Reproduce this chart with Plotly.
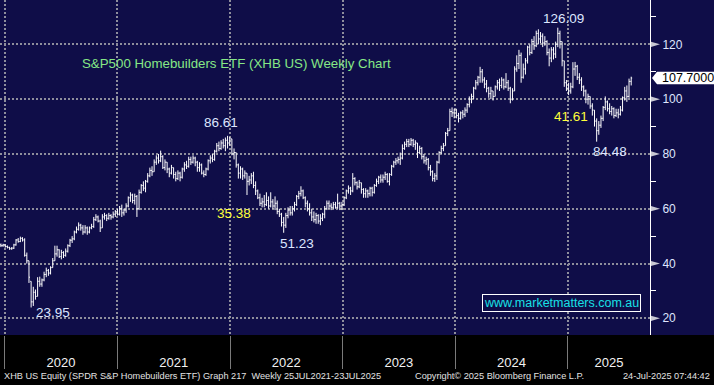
import plotly.graph_objects as go
import pandas as pd

# ---- data (weekly OHLC, XHB US) ----
opens = [46.8,46.5,46.8,46.2,45.9,45.4,45.6,46.8,48.6,48.0,
 49.2,48.6,43.0,41.0,33.5,26.0,29.5,28.0,33.5,32.5,
 34.0,36.0,37.5,36.5,38.5,41.0,43.5,45.0,42.5,44.0,
 43.0,44.5,46.5,48.5,49.0,51.5,52.5,54.0,53.0,51.5,
 53.0,51.5,53.0,53.5,56.0,57.0,55.5,53.0,57.0,57.5,
 56.5,57.5,57.0,58.0,59.0,58.0,60.0,58.5,59.5,61.0,
 64.0,65.0,63.0,64.5,60.0,66.0,68.5,67.5,70.0,72.0,
 74.0,73.5,77.0,78.5,77.5,79.0,75.0,77.0,74.5,73.0,
 75.0,72.5,71.0,73.0,71.5,74.5,76.0,75.5,78.0,77.0,
 78.5,77.0,75.0,76.0,73.0,72.5,74.5,77.5,78.5,78.0,
 81.0,83.0,82.0,84.0,83.0,85.0,84.0,85.5,80.0,80.5,
 76.0,73.0,74.5,72.0,73.0,70.0,70.5,72.0,68.5,66.5,
 64.0,62.0,62.5,61.5,63.0,61.0,62.5,61.0,62.0,59.0,
 58.0,55.0,54.0,57.5,59.5,58.5,60.0,61.5,64.5,65.5,
 66.5,64.0,62.0,60.0,58.5,57.0,56.0,57.5,55.5,56.5,
 58.0,60.0,62.0,61.0,60.5,61.5,60.5,62.0,61.0,61.5,
 64.0,66.5,67.5,66.5,71.0,69.5,68.0,69.5,67.0,65.5,
 66.5,65.5,67.5,66.0,68.5,70.0,71.5,70.5,71.5,72.5,
 70.0,72.5,75.5,77.0,77.5,78.0,78.5,82.0,83.5,84.5,
 83.5,85.0,83.5,84.0,80.5,82.0,79.0,77.5,78.0,75.0,
 73.5,71.0,72.0,77.0,80.5,82.0,83.0,87.5,88.5,95.5,
 95.0,96.0,94.0,93.0,95.0,94.5,96.0,98.0,100.0,101.0,
 104.0,106.0,108.0,110.0,107.0,105.5,104.0,102.0,103.0,101.0,
 104.5,106.0,105.0,107.0,104.5,106.0,104.0,100.0,103.0,111.0,
 113.0,116.0,108.0,111.0,114.0,119.0,117.0,121.0,119.5,124.0,
 122.0,123.0,120.5,121.0,117.0,115.0,118.0,116.5,120.0,124.0,
 121.0,114.0,106.0,104.0,103.0,104.5,111.0,112.0,108.0,107.0,
 104.5,103.0,100.0,101.0,97.5,96.0,92.0,88.5,90.5,93.0,
 97.0,99.0,96.5,95.5,96.5,94.0,95.0,94.5,96.0,100.5,
 103.0,101.0,106.5]
highs = [47.3,47.2,47.0,46.6,46.1,46.0,47.2,48.9,49.3,49.8,
 49.6,49.2,44.0,41.0,33.5,31.5,30.5,35.0,35.2,34.5,
 37.0,38.5,38.0,39.0,42.0,46.5,46.5,45.2,45.0,44.5,
 45.5,47.0,49.0,50.0,52.0,53.5,55.0,54.5,54.0,54.0,
 53.5,53.5,54.5,57.0,58.0,57.5,56.0,58.0,58.5,58.0,
 58.5,58.0,59.0,59.5,60.0,61.0,61.5,60.0,62.0,64.5,
 66.0,65.5,65.5,65.0,67.0,69.0,70.0,70.5,73.0,75.0,
 75.5,78.0,79.5,80.0,81.2,79.5,78.0,77.0,75.0,76.0,
 75.0,73.5,74.0,73.5,75.0,77.0,77.5,79.0,79.0,79.5,
 79.0,77.5,77.0,76.5,74.0,75.0,78.0,79.5,80.0,81.5,
 84.0,84.5,85.0,85.5,86.0,86.61,86.2,85.5,82.0,80.5,
 76.5,75.5,75.0,74.0,73.0,72.0,73.0,73.5,70.0,67.0,
 65.5,64.0,65.0,66.0,64.5,66.0,63.5,64.5,63.0,60.0,
 58.5,57.0,58.5,60.5,61.0,61.0,62.5,65.0,66.5,68.2,
 67.0,64.5,63.0,62.0,60.0,59.0,58.5,58.0,58.0,58.5,
 61.0,63.0,63.0,62.0,62.5,62.5,65.5,62.5,62.5,64.5,
 67.0,68.5,68.0,73.0,71.5,70.0,70.5,69.5,67.5,67.5,
 67.0,68.0,68.0,69.0,71.0,72.0,72.5,72.5,73.5,73.0,
 73.0,76.0,77.5,78.5,79.0,80.5,83.5,84.5,85.5,85.5,
 85.8,85.5,85.0,84.0,83.0,82.5,80.0,79.0,78.5,76.0,
 74.0,73.0,77.5,81.0,83.0,84.0,88.0,89.5,96.5,97.0,
 96.5,96.5,95.0,95.5,96.0,97.0,98.5,101.0,102.0,104.5,
 107.0,108.5,111.8,111.0,108.0,107.0,104.5,104.5,103.0,105.0,
 107.0,107.5,108.0,107.5,109.5,107.0,104.5,104.0,112.0,116.0,
 118.0,117.0,113.0,115.0,119.5,120.0,122.0,123.0,125.0,125.5,
 124.5,124.0,123.0,121.5,118.5,119.0,119.0,121.0,126.09,125.0,
 121.0,114.0,107.0,106.0,106.0,113.5,113.6,112.5,109.5,108.0,
 105.0,103.5,102.0,101.0,98.5,96.0,93.0,92.0,94.0,97.5,
 101.0,99.5,98.5,97.5,97.0,96.5,96.5,97.5,101.0,104.5,
 105.0,107.5,108.2]
lows = [46.0,46.1,45.8,45.5,45.0,45.0,45.3,46.5,47.6,47.8,
 48.0,42.5,40.0,32.9,23.95,24.5,26.8,28.0,31.5,31.5,
 33.5,35.0,35.5,36.0,38.5,41.0,42.5,42.0,41.5,42.0,
 42.5,44.0,46.0,47.5,48.5,51.0,52.0,52.0,50.5,51.0,
 50.5,51.0,52.5,53.0,55.5,55.0,51.5,53.0,56.0,55.5,
 56.0,56.0,56.5,57.0,57.5,57.5,57.0,57.5,58.5,60.5,
 62.5,62.0,61.5,57.0,59.5,65.5,66.5,66.0,69.5,71.5,
 72.0,73.5,76.0,76.5,77.0,74.5,74.0,73.0,71.5,72.5,
 71.0,70.0,70.5,70.0,71.0,73.5,74.5,75.0,76.0,76.5,
 75.5,73.5,73.5,72.5,71.5,72.0,74.0,76.5,77.0,77.5,
 80.5,81.0,81.5,82.0,81.0,82.0,83.0,79.5,78.0,75.0,
 71.0,71.0,70.5,71.0,65.0,68.5,69.0,67.5,65.0,63.5,
 61.0,60.5,60.5,61.0,60.0,60.5,60.0,59.5,58.0,57.0,
 53.5,51.23,53.0,56.5,57.5,57.5,59.0,61.0,63.5,64.5,
 63.5,60.5,59.0,57.5,55.5,55.0,54.5,54.5,54.0,55.5,
 56.5,59.5,60.0,59.5,60.0,60.0,60.0,59.5,59.5,61.0,
 63.5,65.5,65.0,66.0,68.5,67.0,67.5,65.5,64.0,64.0,
 64.0,64.5,64.5,65.5,68.0,69.0,69.5,69.5,70.5,69.5,
 68.5,72.0,75.0,76.0,76.5,76.0,78.0,81.5,82.5,82.5,
 83.0,82.5,81.5,78.5,80.0,78.0,76.5,76.0,74.0,72.0,
 70.0,69.8,70.5,76.5,80.0,81.0,83.0,86.5,88.5,93.5,
 93.0,93.0,91.5,92.5,93.0,93.5,95.0,97.0,98.5,100.0,
 103.5,105.0,106.0,106.0,104.0,102.5,100.5,100.0,99.5,101.0,
 103.5,103.0,104.0,103.5,104.0,103.0,98.5,99.5,103.0,110.0,
 111.0,106.0,107.5,109.0,113.0,116.0,116.5,118.0,119.0,120.0,
 120.5,119.0,119.5,116.0,112.0,113.5,114.5,115.0,119.0,118.5,
 112.0,104.5,103.0,101.5,102.0,104.0,108.5,107.0,105.5,103.0,
 101.0,98.5,98.0,96.5,94.0,90.0,84.48,87.0,89.5,92.0,
 96.0,95.5,94.5,94.0,93.0,93.5,93.0,94.0,95.5,99.5,
 99.0,100.5,105.0]
closes = [46.5,46.8,46.2,45.9,45.4,45.6,46.8,48.6,48.0,49.2,
 48.6,43.0,41.0,35.0,26.0,29.5,28.0,33.5,32.5,34.0,
 36.0,37.5,36.5,38.5,41.0,43.5,45.0,42.5,44.0,43.0,
 44.5,46.5,48.5,49.0,51.5,52.5,54.0,53.0,51.5,53.0,
 51.5,53.0,53.5,56.0,57.0,55.5,53.0,57.0,57.5,56.5,
 57.5,57.0,58.0,59.0,58.0,60.0,58.5,59.5,61.0,64.0,
 65.0,63.0,64.5,60.0,66.0,68.5,67.5,70.0,72.0,74.0,
 73.5,77.0,78.5,77.5,79.0,75.0,77.0,74.5,73.0,75.0,
 72.5,71.0,73.0,71.5,74.5,76.0,75.5,78.0,77.0,78.5,
 77.0,75.0,76.0,73.0,72.5,74.5,77.5,78.5,78.0,81.0,
 83.0,82.0,84.0,83.0,85.0,84.0,85.5,80.0,80.5,76.0,
 73.0,74.5,72.0,73.0,70.0,70.5,72.0,68.5,66.5,64.0,
 62.0,62.5,61.5,63.0,61.0,62.5,61.0,62.0,59.0,58.0,
 55.0,54.0,57.5,59.5,58.5,60.0,61.5,64.5,65.5,66.5,
 64.0,62.0,60.0,58.5,57.0,56.0,57.5,55.5,56.5,58.0,
 60.0,62.0,61.0,60.5,61.5,60.5,62.0,61.0,61.5,64.0,
 66.5,67.5,66.5,71.0,69.5,68.0,69.5,67.0,65.5,66.5,
 65.5,67.5,66.0,68.5,70.0,71.5,70.5,71.5,72.5,70.0,
 72.5,75.5,77.0,77.5,78.0,78.5,82.0,83.5,84.5,83.5,
 85.0,83.5,84.0,80.5,82.0,79.0,77.5,78.0,75.0,73.5,
 71.0,72.0,77.0,80.5,82.0,83.0,87.5,88.5,95.5,95.0,
 96.0,94.0,93.0,95.0,94.5,96.0,98.0,100.0,101.0,104.0,
 106.0,108.0,110.0,107.0,105.5,104.0,102.0,103.0,101.0,104.5,
 106.0,105.0,107.0,104.5,106.0,104.0,100.0,103.0,111.0,113.0,
 116.0,108.0,111.0,114.0,119.0,117.0,121.0,119.5,124.0,122.0,
 123.0,120.5,121.0,117.0,115.0,118.0,116.5,120.0,124.0,121.0,
 114.0,106.0,104.0,103.0,104.5,111.0,112.0,108.0,107.0,104.5,
 103.0,100.0,101.0,97.5,96.0,92.0,88.5,90.5,93.0,97.0,
 99.0,96.5,95.5,96.5,94.0,95.0,94.5,96.0,100.5,103.0,
 101.0,106.5,107.7]
assert len(opens) == len(highs) == len(lows) == len(closes), (len(opens), len(highs), len(lows), len(closes))

dates = pd.date_range("2019-12-20", periods=len(closes), freq="W-FRI")

year_labels = ["2020", "2021", "2022", "2023", "2024", "2025"]
y_ticks = [20, 40, 60, 80, 100, 120]

# labelled extremes: (text, date, value, xshift px, yshift px)
extremes = [
    ("126.09", "2024-12-06", 126.09, 4, 9),
    ("86.61", "2021-12-17", 86.61, -4, 13),
    ("51.23", "2022-06-17", 51.23, 15, -11),
    ("23.95", "2020-03-27", 23.95, 22, -5),
    ("84.48", "2025-04-11", 84.48, 11, -10),
]
declines = [("35.38", "2022-01-14", 58.4), ("41.61", "2025-01-11", 93.5)]

title_text = "S&P500 Homebuilders ETF (XHB US) Weekly Chart"
footer_left = "XHB US Equity (SPDR S&P Homebuilders ETF) Graph 217  Weekly 25JUL2021-23JUL2025"
footer_mid = "Copyright\u00a9 2025 Bloomberg Finance L.P."
footer_right = "24-Jul-2025 07:44:42"
watermark = "www.marketmatters.com.au"

# ---- layout constants ----
NAVY = "#0f0d48"
GRID = "#8e8e9c"
W, H = 714, 385
PW, PH = 650, 335
x_range = [pd.Timestamp("2019-12-17"), pd.Timestamp("2025-09-24")]
y_range = [13.9, 136.2]
upp = (y_range[1] - y_range[0]) / PH  # data units per pixel

year_starts = [pd.Timestamp(f"{y}-01-01") for y in year_labels]
year_ends = year_starts[1:] + [x_range[1]]
label_pos = [s + (e - s) / 2 for s, e in zip(year_starts, year_ends)]

SANS = "Liberation Sans, Arial, sans-serif"

fig = go.Figure()
fig.add_trace(go.Ohlc(
    x=dates, open=opens, high=highs, low=lows, close=closes,
    increasing=dict(line=dict(color="white", width=1)),
    decreasing=dict(line=dict(color="white", width=1)),
    tickwidth=0.45, hoverinfo="skip",
))

shapes = []
shapes.append(dict(type="rect", xref="paper", yref="paper", x0=1, x1=W / PW, y0=0, y1=1,
                   fillcolor=NAVY, line=dict(width=0), layer="below"))
for t in y_ticks:
    h = 2.6 * upp
    shapes.append(dict(type="path", xref="paper", yref="y",
                       path=f"M {651/PW},{t+h} L {660/PW},{t} L {651/PW},{t-h} Z",
                       fillcolor="#c8c8d2", line=dict(width=0)))
last = closes[-1]
hh = 6.3 * upp
shapes.append(dict(type="path", xref="paper", yref="y",
                   path=(f"M {652/PW},{last} L {657/PW},{last+hh} L {W/PW},{last+hh} "
                         f"L {W/PW},{last-hh} L {657/PW},{last-hh} Z"),
                   fillcolor="white", line=dict(width=0)))

ann = []
ann.append(dict(xref="paper", yref="y", x=660 / PW, y=last, xanchor="left", yanchor="middle",
                text=f"{last:.4f}", showarrow=False, font=dict(family=SANS, size=12.5, color="black")))
ann.append(dict(xref="paper", yref="paper", x=80 / PW, y=1 - 63 / PH, xanchor="left", yanchor="middle",
                text=title_text, showarrow=False, font=dict(family=SANS, size=13.3, color="#86e886")))
for txt, d, v, xs, ys in extremes:
    ann.append(dict(xref="x", yref="y", x=d, y=v, xshift=xs, yshift=ys, text=txt, showarrow=False,
                    xanchor="center", yanchor="middle",
                    font=dict(family=SANS, size=13.5, color="#dde6ff")))
for txt, d, v in declines:
    ann.append(dict(xref="x", yref="y", x=d, y=v, text=txt, showarrow=False,
                    xanchor="center", yanchor="middle",
                    font=dict(family=SANS, size=13.5, color="#ffff3a")))
ann.append(dict(xref="paper", yref="paper", x=561 / PW, y=1 - 302.5 / PH, xanchor="center", yanchor="middle",
                text=watermark, showarrow=False, bgcolor=NAVY, bordercolor="white", borderwidth=1, borderpad=1,
                font=dict(family=SANS, size=12.5, color="#18e0e6")))
for txt, x, anc in [(footer_left, 2, "left"), (footer_mid, 413, "left"), (footer_right, 712, "right")]:
    ann.append(dict(xref="paper", yref="paper", x=x / PW, y=0, yshift=-41, xanchor=anc, yanchor="middle",
                    text=txt, showarrow=False, font=dict(family=SANS, size=9.2, color="#e2e2e2")))

fig.update_layout(
    width=W, height=H, margin=dict(l=0, r=W - PW, t=0, b=H - PH),
    paper_bgcolor="black", plot_bgcolor=NAVY, showlegend=False,
    shapes=shapes, annotations=ann,
    xaxis=dict(
        type="date", range=x_range, rangeslider=dict(visible=False),
        tickmode="array", tickvals=label_pos, ticktext=year_labels,
        ticks="", showgrid=False, showline=False, zeroline=False,
        ticklabelstandoff=18,
        tickfont=dict(family=SANS, size=13, color="#f2f2f2"),
        minor=dict(tickmode="array", tickvals=year_starts, ticks="outside", ticklen=33,
                   tickcolor="#7a7a7a", tickwidth=1, showgrid=True, gridcolor=GRID,
                   griddash="2px,2px", gridwidth=2),
    ),
    yaxis=dict(
        side="right", range=y_range, tickmode="array", tickvals=y_ticks,
        ticks="outside", ticklen=9, tickcolor="rgba(0,0,0,0)",
        showgrid=True, gridcolor=GRID, griddash="2px,2px", gridwidth=2,
        showline=True, linecolor="white", linewidth=1, zeroline=False,
        tickfont=dict(family=SANS, size=12, color="#dfe6ff"),
        minor=dict(dtick=10, ticks="outside", ticklen=5, tickcolor="white", tickwidth=1, showgrid=False),
    ),
)

fig.write_html("out.html", config={"displayModeBar": False},
               post_script="document.body.style.margin='0';document.body.style.background='black';")
